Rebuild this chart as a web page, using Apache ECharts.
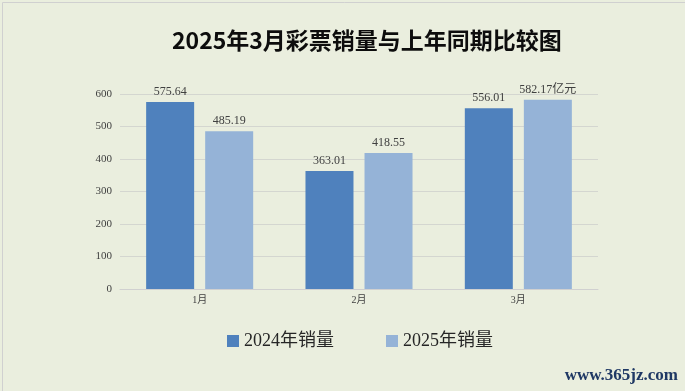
<!DOCTYPE html>
<html><head><meta charset="utf-8">
<script src="https://cdn.jsdelivr.net/npm/echarts@6/dist/echarts.min.js"></script>
<style>html,body{margin:0;padding:0;background:#eaeede;}#c{width:685px;height:391px;}</style>
</head><body><div id="c"></div>
<script>
const title = '2025年3月彩票销量与上年同期比较图';
const categories = ['1月', '2月', '3月'];
const seriesNames = ['2024年销量', '2025年销量'];
const sales2024 = [575.64, 363.01, 556.01];
const sales2025 = [485.19, 418.55, 582.17];
const yTicks = { min: 0, max: 600, interval: 100 };
const unitSuffix = '亿元';
const watermark = 'www.365jz.com';

const serif = '"Liberation Serif","DejaVu Serif","Noto Sans CJK SC",serif';
const chart = echarts.init(document.getElementById('c'));
chart.setOption({
  backgroundColor: '#eaeede',
  title: {
    text: title, left: 167, top: 24,
    textStyle: { fontFamily: '"Noto Sans CJK SC",sans-serif', fontWeight: 'bold', fontSize: 23, color: '#0d0d0d' }
  },
  grid: { left: 120, right: 87, top: 94, bottom: 102 },
  legend: {
    bottom: 36, left: 222, itemWidth: 12, itemHeight: 12, itemGap: 52,
    icon: 'rect',
    textStyle: { fontFamily: serif, fontSize: 18, color: '#262626' },
    data: seriesNames
  },
  xAxis: {
    type: 'category', data: categories,
    axisLine: { lineStyle: { color: '#d0d0d0' } },
    axisTick: { show: false },
    axisLabel: { fontFamily: serif, fontSize: 10, color: '#404040', margin: 6 }
  },
  yAxis: {
    type: 'value', min: yTicks.min, max: yTicks.max, interval: yTicks.interval,
    axisLine: { show: false }, axisTick: { show: false },
    splitLine: { lineStyle: { color: '#d4d6d0' } },
    axisLabel: { fontFamily: serif, fontSize: 11, color: '#404040', margin: 8 }
  },
  series: [
    {
      name: seriesNames[0], type: 'bar', data: sales2024, barWidth: 48, barGap: '23%',
      itemStyle: { color: '#4f81bd' },
      label: { show: true, position: 'top', distance: 4, fontFamily: serif, fontSize: 12, color: '#404040',
        formatter: p => p.value.toFixed(2) }
    },
    {
      name: seriesNames[1], type: 'bar', data: sales2025, barWidth: 48,
      itemStyle: { color: '#95b3d7' },
      label: { show: true, position: 'top', distance: 4, fontFamily: serif, fontSize: 12, color: '#404040',
        formatter: p => p.value.toFixed(2) + (p.dataIndex === sales2025.length - 1 ? unitSuffix : '') }
    }
  ],
  graphic: [
    { type: 'rect', left: 0, top: 0, shape: { width: 684, height: 390 }, style: { fill: 'none', stroke: '#d0d0d0', lineWidth: 1 }, silent: true },
    { type: 'text', right: 7, bottom: 7, style: { text: watermark, fontFamily: serif, fontSize: 17, fontWeight: 'bold', fill: '#1f3864' } }
  ]
});
</script></body></html>
